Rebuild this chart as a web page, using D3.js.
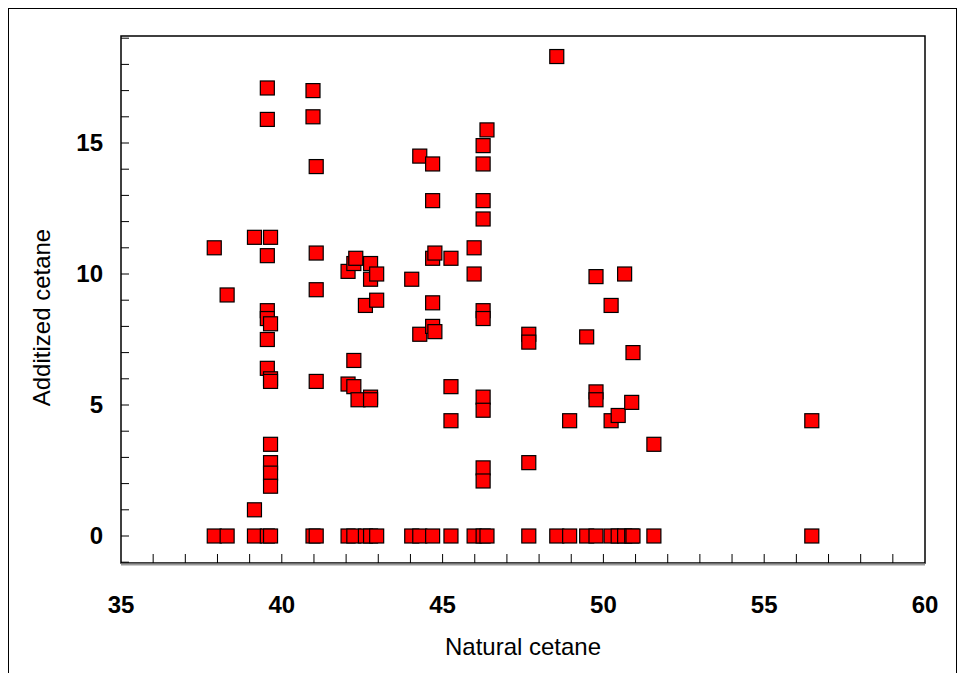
<!DOCTYPE html><html><head><meta charset="utf-8">
<script src="https://cdn.jsdelivr.net/npm/d3@7"></script>
<style>body{margin:0;background:#fff}</style></head><body><svg id="c" width="965" height="673"></svg>
<script>
const xs=[37.9,37.9,38.3,38.3,39.15,39.15,39.15,
39.55,39.55,39.55,39.55,39.55,39.55,39.55,39.55,
39.65,39.65,39.65,39.65,39.65,39.65,39.65,39.65,39.65,
40.97,40.97,40.97,41.07,41.07,41.07,41.07,41.07,
42.06,42.06,42.06,42.24,42.24,42.24,42.24,42.3,42.37,42.6,42.6,42.76,42.76,42.76,42.76,42.76,42.95,42.95,42.95,
44.04,44.04,44.29,44.29,44.29,44.69,44.69,44.69,44.69,44.69,44.76,44.69,44.76,45.26,45.26,45.26,45.26,45.98,45.98,45.98,
46.26,46.26,46.26,46.26,46.26,46.26,46.26,46.26,46.26,46.26,46.26,46.38,46.38,
47.68,47.68,47.68,47.68,48.55,48.55,48.95,48.95,49.48,49.48,49.77,49.77,49.77,49.77,50.24,50.24,50.24,50.46,50.46,50.66,50.66,50.88,50.88,50.92,50.92,51.57,51.57,56.48,56.48];
const ys=[11,0,9.2,0,11.4,1.0,0,
17.1,15.9,10.7,8.6,8.3,7.5,6.4,0,
11.4,8.1,6.0,5.9,3.5,2.8,2.4,1.9,0,
17.0,16.0,0,14.1,10.8,9.4,5.9,0,
10.1,5.8,0,10.4,6.7,5.7,0,10.6,5.2,8.8,0,10.4,9.8,5.3,5.2,0,10.0,9.0,0,
9.8,0,14.5,7.7,0,14.2,12.8,10.6,8.9,8.0,7.8,0,10.8,10.6,5.7,4.4,0,11.0,10.0,0,
14.9,14.2,12.8,12.1,8.6,8.3,5.3,4.8,2.6,2.1,0,15.5,0,
7.7,7.4,2.8,0,18.3,0,4.4,0,7.6,0,9.9,5.5,5.2,0,8.8,4.4,0,4.6,0,10.0,0,5.1,0,7.0,0,3.5,0,4.4,0];
const xTicks=[35,40,45,50,55,60], yTicks=[0,5,10,15];
const svg=d3.select("#c");
const L=121,R=925,T=36,B=563;
const x=d3.scaleLinear().domain([35,60]).range([L,R]);
const y=d3.scaleLinear().domain([0,15]).range([536,143]);
const F="Arial, Liberation Sans, sans-serif";
svg.append("rect").attr("x",8.5).attr("y",8.5).attr("width",948).attr("height",680).attr("fill","none").attr("stroke","#000");
svg.append("rect").attr("x",L).attr("y",T).attr("width",R-L).attr("height",B-T).attr("fill","none").attr("stroke","#000").attr("stroke-width",1.5);
svg.append("line").attr("x1",L).attr("x2",R).attr("y1",B+1.5).attr("y2",B+1.5).attr("stroke","#999").attr("stroke-width",2);
const g=svg.append("g");
d3.range(36,60).forEach(v=>g.append("line").attr("x1",x(v)).attr("x2",x(v)).attr("y1",B).attr("y2",B-9).attr("stroke","#000"));
d3.range(-1,20).forEach(v=>{const yy=y(v); if(yy>T&&yy<B) g.append("line").attr("x1",L).attr("x2",L+8).attr("y1",yy).attr("y2",yy).attr("stroke","#000");});
xTicks.forEach(v=>svg.append("text").attr("x",x(v)).attr("y",613).attr("text-anchor","middle").attr("font-family",F).attr("font-weight","bold").attr("font-size",24).text(v));
yTicks.forEach(v=>svg.append("text").attr("x",103).attr("y",y(v)+8).attr("text-anchor","end").attr("font-family",F).attr("font-weight","bold").attr("font-size",24).text(v));
svg.append("text").attr("x",x(47.5)).attr("y",655).attr("text-anchor","middle").attr("font-family",F).attr("font-size",24).text("Natural cetane");
svg.append("text").attr("transform",`translate(50,${(T+B)/2+18}) rotate(-90)`).attr("text-anchor","middle").attr("font-family",F).attr("font-size",24).text("Additized cetane");
const s=14;
svg.append("g").selectAll("rect").data(xs.map((v,i)=>[v,ys[i]])).join("rect")
 .attr("x",d=>x(d[0])-s/2).attr("y",d=>y(d[1])-s/2).attr("width",s).attr("height",s)
 .attr("fill","#ff0000").attr("stroke","#000").attr("stroke-width",1.2);
</script></body></html>
